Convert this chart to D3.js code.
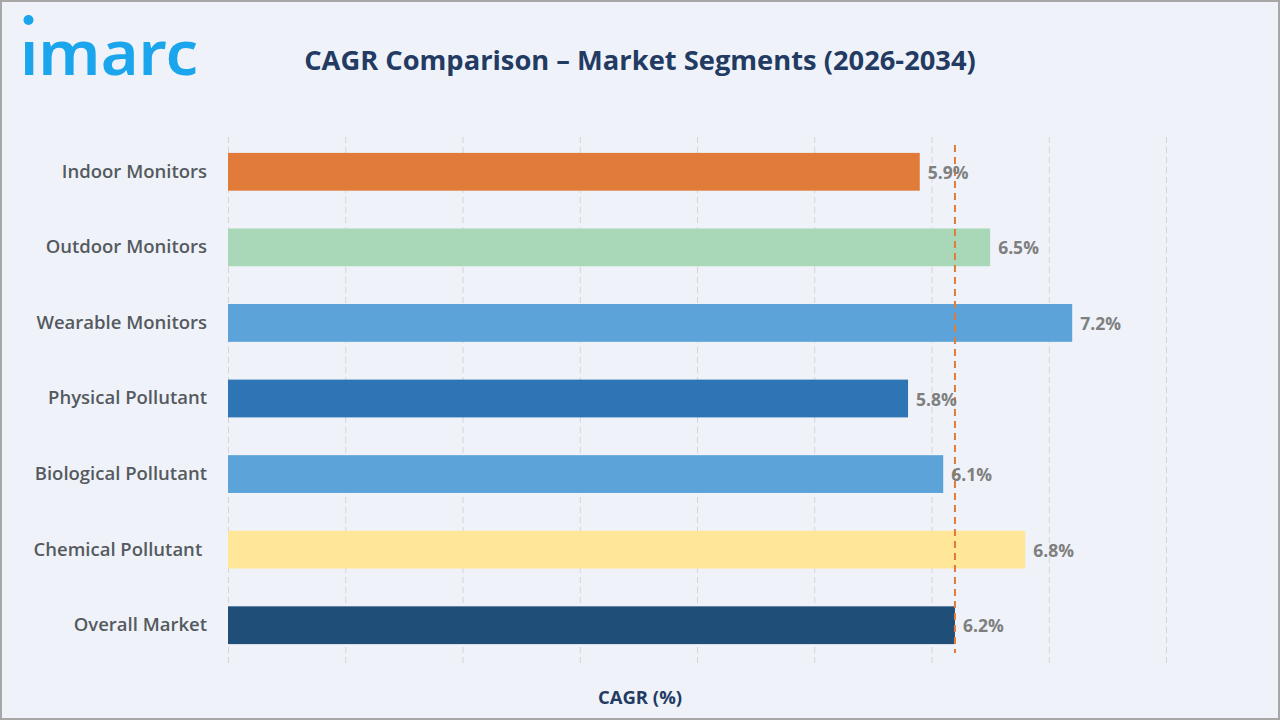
<!DOCTYPE html>
<html>
<head>
<meta charset="utf-8">
<script src="https://cdn.jsdelivr.net/npm/d3@7"></script>
<style>
  html, body { margin: 0; padding: 0; background: #fff; }
  #chart { width: 1280px; height: 720px; }
  text { font-family: "Open Sans", "Noto Sans", sans-serif; }
</style>
</head>
<body>
<div id="chart"></div>
<script>
var categories = ['Indoor Monitors', 'Outdoor Monitors', 'Wearable Monitors', 'Physical Pollutant',
  'Biological Pollutant', 'Chemical Pollutant ', 'Overall Market'];
var cagr = [5.9, 6.5, 7.2, 5.8, 6.1, 6.8, 6.2];
var barColors = ['#E07B39', '#A9D8B8', '#5BA3D9', '#2E75B6', '#5BA3D9', '#FFE699', '#1F4E79'];
var xTicks = [0, 1, 2, 3, 4, 5, 6, 7, 8];
var overall = 6.2;

var W = 1280, H = 720;
var margin = {top: 134, right: 114, bottom: 57, left: 228};
var width = W - margin.left - margin.right,
  height = H - margin.top - margin.bottom;

var svg = d3.select('#chart').append('svg')
  .attr('width', W)
  .attr('height', H);

// background + frame
svg.append('rect')
  .attr('x', 1).attr('y', 1)
  .attr('width', W - 2).attr('height', H - 2)
  .attr('fill', '#EFF3F9')
  .attr('stroke', '#A6A6A6')
  .attr('stroke-width', 2);

// logo
var logo = svg.append('g').attr('transform', 'translate(20, 0)');
logo.append('text')
  .attr('x', 0).attr('y', 75)
  .attr('fill', '#1BA5EC')
  .style('font-family', '"Noto Sans", sans-serif')
  .style('font-size', '62px')
  .style('font-weight', 600)
  .attr('textLength', 178)
  .attr('lengthAdjust', 'spacingAndGlyphs')
  .text('\u0131marc');
logo.append('circle')
  .attr('cx', 8.5).attr('cy', 20)
  .attr('r', 5)
  .attr('fill', '#1BA5EC');

svg.append('text')
  .attr('x', 640).attr('y', 70)
  .attr('text-anchor', 'middle')
  .attr('fill', '#233B63')
  .style('font-size', '27.3px')
  .style('font-weight', 700)
  .text('CAGR Comparison \u2013 Market Segments (2026-2034)');

var x = d3.scaleLinear().domain([0, 8]).range([0, width]);
var y = d3.scaleBand().domain(categories).range([0, height]).paddingInner(0.5).paddingOuter(0.25);

var g = svg.append('g')
  .attr('transform', 'translate(' + margin.left + ',' + margin.top + ')');

// vertical dashed grid
g.append('g')
  .attr('class', 'grid')
  .attr('transform', 'translate(0,' + height + ')')
  .call(d3.axisBottom(x).tickValues(xTicks).tickSize(-height).tickFormat(''))
  .call(function(s) {
    s.select('.domain').remove();
    s.selectAll('line')
      .attr('stroke', '#D4D4D4')
      .attr('stroke-width', 1)
      .attr('stroke-dasharray', '6,4');
  });

g.selectAll('rect.bar')
  .data(cagr)
  .enter().append('rect')
  .attr('class', 'bar')
  .attr('x', 0)
  .attr('y', function(d, i) { return y(categories[i]); })
  .attr('width', function(d) { return x(d); })
  .attr('height', y.bandwidth())
  .attr('fill', function(d, i) { return barColors[i]; });

// reference line at overall CAGR
g.append('line')
  .attr('x1', x(overall)).attr('x2', x(overall))
  .attr('y1', 11).attr('y2', height - 10)
  .attr('stroke', '#E07B39')
  .attr('stroke-width', 2)
  .attr('stroke-dasharray', '7,5');

g.selectAll('text.val')
  .data(cagr)
  .enter().append('text')
  .attr('class', 'val')
  .attr('x', function(d) { return x(d) + 8; })
  .attr('y', function(d, i) { return y(categories[i]) + y.bandwidth() / 2 + 1; })
  .attr('dy', '0.35em')
  .attr('fill', '#7F7F7F')
  .style('font-size', '17.5px')
  .style('font-weight', 700)
  .text(function(d) { return d.toFixed(1) + '%'; });

// category axis
g.append('g')
  .call(d3.axisLeft(y).tickSize(0).tickPadding(21))
  .call(function(s) {
    s.select('.domain').remove();
    s.selectAll('text')
      .attr('fill', '#555A60')
      .style('font-family', '"Open Sans", sans-serif')
      .style('font-size', '18.5px')
      .style('font-weight', 600)
      .style('white-space', 'pre');
  });

svg.append('text')
  .attr('x', 640).attr('y', 704)
  .attr('text-anchor', 'middle')
  .attr('fill', '#233B63')
  .style('font-size', '18.5px')
  .style('font-weight', 700)
  .text('CAGR (%)');
</script>
</body>
</html>
